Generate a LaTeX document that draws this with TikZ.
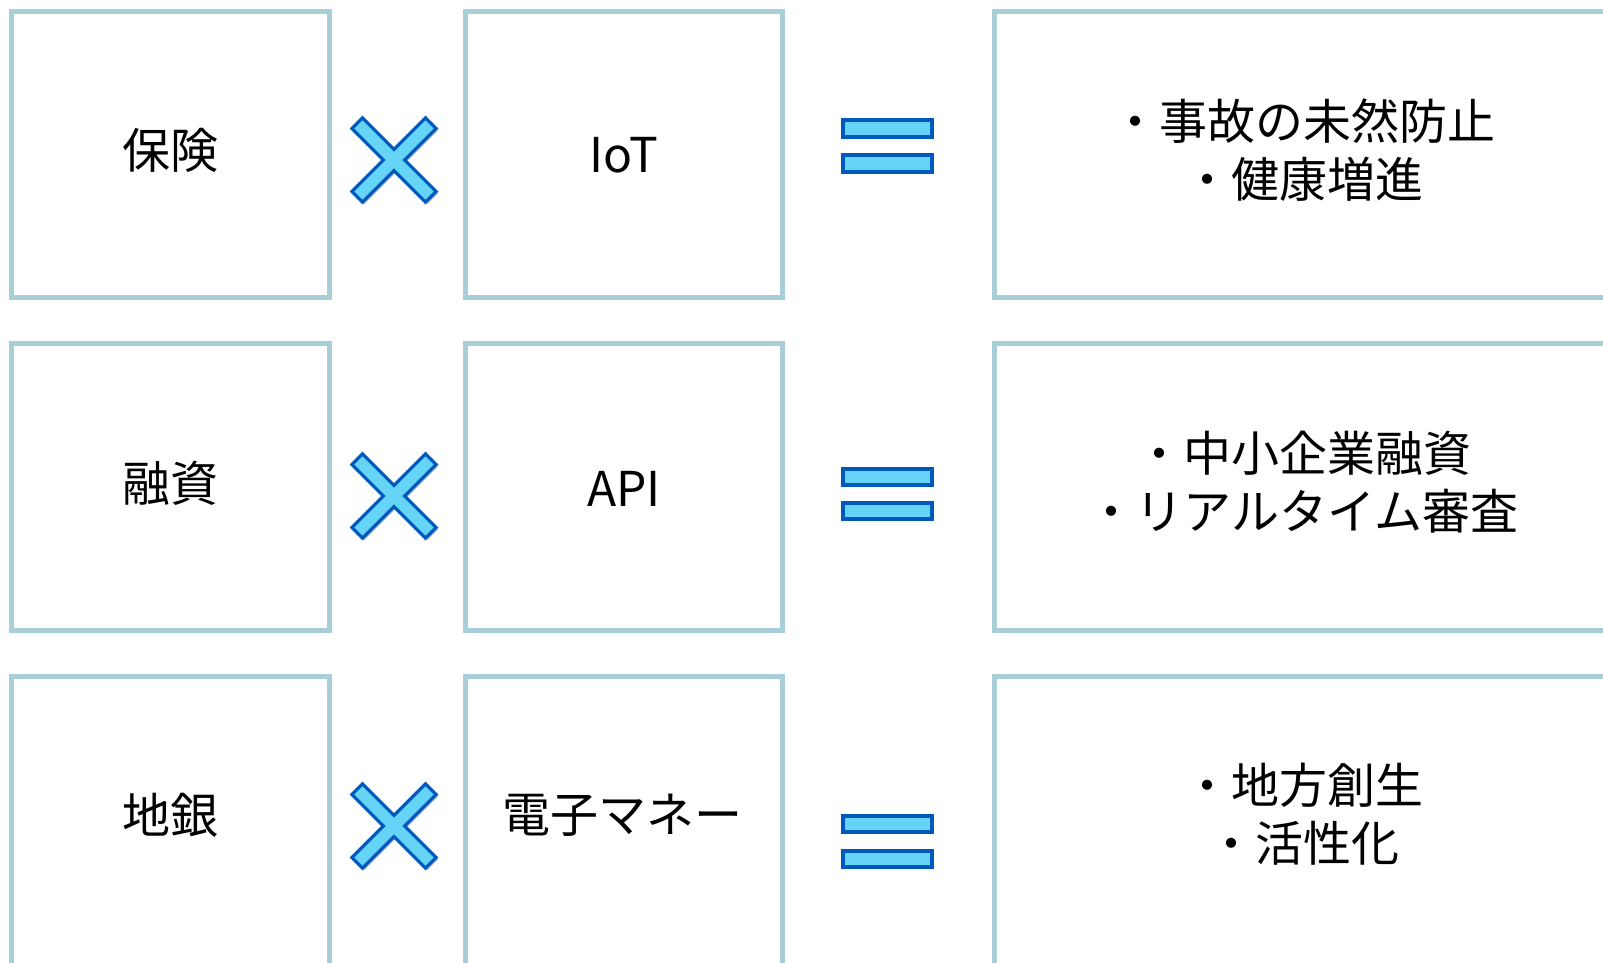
\documentclass[tikz,border=0pt]{standalone}
\usepackage{fontspec}
\setmainfont{Noto Sans CJK JP}
\usetikzlibrary{shadows}
\definecolor{boxline}{RGB}{168,206,216}
\definecolor{symfill}{RGB}{102,212,247}
\definecolor{symline}{RGB}{0,90,190}
\tikzset{
  cell/.style={draw=boxline, line width=5pt, fill=white},
  sym/.style={fill=symfill, draw=symline, line width=3.2pt, line join=miter,
    drop shadow={shadow xshift=2pt, shadow yshift=-2pt, opacity=0.25, fill=black}},
  lbl/.style={font=\fontsize{48}{58}\selectfont, align=center, inner sep=0pt}
}
\begin{document}
\begin{tikzpicture}[x=1pt,y=-1pt]
\useasboundingbox (0,0) rectangle (1603,962);
\begin{scope}
\clip (0,0) rectangle (1603,962);
% boxes
\foreach \r/\t/\b in {1/11/297.5, 2/343.5/630.5, 3/676.5/966}{
  \draw[cell] (11.5,\t) rectangle (329.5,\b);
  \draw[cell] (465.5,\t) rectangle (782.5,\b);
  \draw[cell] (994.5,\t) rectangle (1650,\b);
}
% cross symbols
\foreach \cy in {160,496,826}{
  \begin{scope}[shift={(394,\cy)}, rotate=45]
    \path[sym] (7.5,7.5) -- (52,7.5) -- (52,-7.5) -- (7.5,-7.5) -- (7.5,-52) -- (-7.5,-52)
      -- (-7.5,-7.5) -- (-52,-7.5) -- (-52,7.5) -- (-7.5,7.5) -- (-7.5,52) -- (7.5,52) -- cycle;
  \end{scope}
}
% equals symbols
\foreach \ya/\yb/\yc/\yd in {120/137/155/172, 469/485/503/519, 816/832/851/867}{
  \path[sym] (843,\ya) rectangle (932,\yb);
  \path[sym] (843,\yc) rectangle (932,\yd);
}
\end{scope}
% labels
\node[lbl] (a1) at (170,150) {保険};
\node[lbl] (b1) at (624,155) {IoT};
\node[lbl] (c1) at (1303,150) {・事故の未然防止\\・健康増進};
\node[lbl] (a2) at (170,483) {融資};
\node[lbl] (b2) at (624,489) {API};
\node[lbl] (c2) at (1303,482) {・中小企業融資\\・リアルタイム審査};
\node[lbl] (a3) at (170,815) {地銀};
\node[lbl] (b3) at (622,815) {電子マネー};
\node[lbl] (c3) at (1303,814) {・地方創生\\・活性化};
\end{tikzpicture}
\end{document}
